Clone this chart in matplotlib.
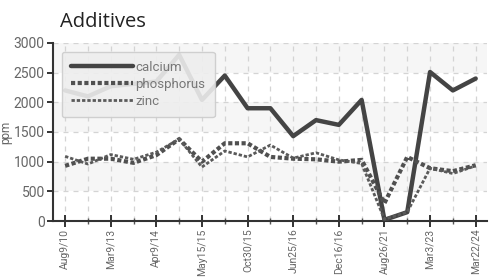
import matplotlib
matplotlib.use("Agg")
import matplotlib.pyplot as plt
from matplotlib.ticker import FixedLocator

dates = ["Aug9/10", "", "Mar9/13", "", "Apr9/14", "", "May15/15", "", "Oct30/15", "",
         "Jun25/16", "", "Dec16/16", "", "Aug26/21", "", "Mar3/23", "", "Mar22/24"]
calcium = [2200, 2100, 2270, 2310, 2350, 2800, 2040, 2450, 1900, 1900,
           1430, 1700, 1620, 2040, 20, 150, 2510, 2200, 2400]
phosphorus = [930, 1050, 1050, 980, 1110, 1380, 1000, 1310, 1310, 1080,
              1050, 1040, 1000, 1030, 300, 1080, 890, 840, 940]
zinc = [1090, 960, 1120, 1040, 1160, 1380, 910, 1180, 1080, 1280,
        1060, 1150, 1030, 970, 30, 150, 890, 800, 930]
yticks = [0, 500, 1000, 1500, 2000, 2500, 3000]

narrow = "Roboto"

fig = plt.figure(figsize=(4.91, 2.77), dpi=100)
ax = fig.add_axes([0.108, 0.202, 0.884, 0.643])

x = list(range(len(dates)))
for i, lo in enumerate(yticks[:-1]):
    if i % 2 == 1:
        ax.axhspan(lo, lo + 500, color="#f6f6f6", zorder=0, lw=0)

ax.set_xlim(-0.53, 18.5)
ax.set_ylim(0, 3000)

ax.plot(x, calcium, color="#444444", lw=3.2, label="calcium", zorder=3,
        solid_capstyle="round", solid_joinstyle="round")
ax.plot(x, phosphorus, color="#505050", lw=3.0, ls=(0, (1.0, 0.6)), label="phosphorus", zorder=3)
ax.plot(x, zinc, color="#5a5a5a", lw=2.0, ls=(0, (1.2, 0.7)), label="zinc", zorder=3)

ax.set_yticks(yticks)
ax.set_xticks(x[::2])
ax.xaxis.set_minor_locator(FixedLocator(x[1::2]))
ax.set_xticklabels([d for d in dates[::2]], rotation=90, fontfamily=narrow,
                   fontsize=7.5, color="#666666", va="top")
for lab in ax.get_yticklabels():
    lab.set_fontfamily(narrow)
    lab.set_fontsize(10)
    lab.set_color("#666666")

ax.grid(True, which="both", axis="x", ls=(0, (4, 4)), color="#d4d4d4", lw=0.9)
ax.grid(True, which="major", axis="y", ls=(0, (4, 4)), color="#d4d4d4", lw=0.9)
ax.set_axisbelow(True)

for s in ["top", "right"]:
    ax.spines[s].set_visible(False)
for s in ["left", "bottom"]:
    ax.spines[s].set_color("#333333")
    ax.spines[s].set_linewidth(1.5)

ax.tick_params(axis="x", which="major", direction="inout", length=8, width=1.4, color="#333333", pad=1.5)
ax.tick_params(axis="x", which="minor", direction="inout", length=4, width=1.0, color="#555555")
ax.tick_params(axis="y", which="major", direction="out", length=4, width=1.4, color="#333333", pad=2)

ax.set_ylabel("ppm", fontsize=8.5, color="#666666", fontfamily=narrow)
ax.yaxis.set_label_coords(-0.095, 0.5)

leg = ax.legend(loc="upper left", bbox_to_anchor=(0.02, 0.95), frameon=True, fancybox=True,
                handlelength=4.7, handletextpad=0.2, labelspacing=0.3, borderpad=0.7,
                borderaxespad=0.0, prop={"family": narrow, "size": 9.5})
leg.get_frame().set_facecolor("#eeeeee")
leg.get_frame().set_alpha(0.9)
leg.get_frame().set_edgecolor("#cccccc")
for t in leg.get_texts():
    t.set_color("#777777")

fig.text(0.122, 0.886, "Additives", fontsize=14.5, color="#222222", ha="left", va="bottom",
         fontfamily="Open Sans")

fig.savefig("out.png", dpi=100)
